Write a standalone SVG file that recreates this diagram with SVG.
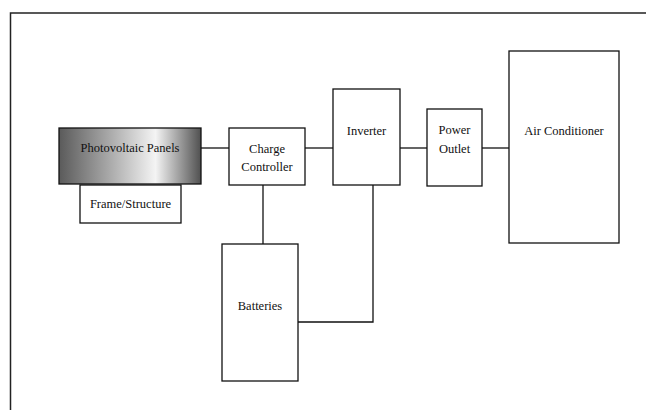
<svg xmlns="http://www.w3.org/2000/svg" width="646" height="410" viewBox="0 0 646 410">
<defs>
<linearGradient id="pvg" x1="0" y1="0" x2="1" y2="0">
<stop offset="0" stop-color="#5a5a5a"/>
<stop offset="0.35" stop-color="#a8a8a8"/>
<stop offset="0.68" stop-color="#f4f4f4"/>
<stop offset="1" stop-color="#505050"/>
</linearGradient>
</defs>
<style>
.box{fill:#ffffff;stroke:#111111;stroke-width:1.3}
.lbl{font-family:'Liberation Serif','DejaVu Serif',serif;font-size:12.5px;fill:#111111;text-anchor:middle}
.con{stroke:#111111;stroke-width:1.3;fill:none}
</style>
<rect x="0" y="0" width="646" height="410" fill="#ffffff"/>
<path d="M10.5,410 V13 H646" fill="none" stroke="#222222" stroke-width="1.5"/>
<g id="connectors">
<line class="con" x1="201" y1="148" x2="229" y2="148"/>
<line class="con" x1="305" y1="148" x2="333" y2="148"/>
<line class="con" x1="400" y1="148" x2="427" y2="148"/>
<line class="con" x1="482" y1="148" x2="509" y2="148"/>
<line class="con" x1="263" y1="185" x2="263" y2="244"/>
<polyline class="con" points="373,185 373,322 298,322"/>
</g>
<g id="pv">
<rect x="59" y="128" width="142" height="56" fill="url(#pvg)" stroke="#111111" stroke-width="1.3"/>
<text class="lbl" x="130" y="152">Photovoltaic Panels</text>
</g>
<g id="frame">
<rect class="box" x="80" y="185" width="101" height="38"/>
<text class="lbl" x="130.5" y="208">Frame/Structure</text>
</g>
<g id="charge">
<rect class="box" x="229" y="128" width="76" height="57"/>
<text class="lbl" x="267" y="153">Charge</text>
<text class="lbl" x="267" y="171">Controller</text>
</g>
<g id="inverter">
<rect class="box" x="333" y="89" width="67" height="96"/>
<text class="lbl" x="366.5" y="135">Inverter</text>
</g>
<g id="outlet">
<rect class="box" x="427" y="109" width="55" height="77"/>
<text class="lbl" x="454.5" y="134">Power</text>
<text class="lbl" x="454.5" y="153">Outlet</text>
</g>
<g id="ac">
<rect class="box" x="509" y="51" width="110" height="192"/>
<text class="lbl" x="564" y="135">Air Conditioner</text>
</g>
<g id="batteries">
<rect class="box" x="222" y="244" width="76" height="137"/>
<text class="lbl" x="260" y="310">Batteries</text>
</g>
</svg>
